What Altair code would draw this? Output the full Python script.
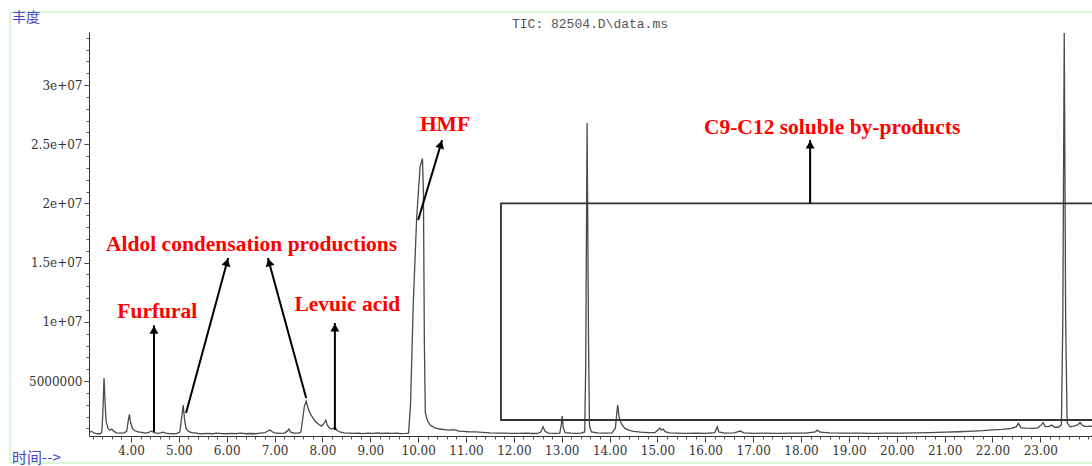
import math
import altair as alt
import pandas as pd

# ---------------- data (time in min, abundance in millions) ----------------
times = [
    3.12, 3.16, 3.20, 3.25, 3.30, 3.36, 3.39,
    3.41, 3.436, 3.46, 3.48, 3.52, 3.56, 3.60, 3.64, 3.70, 3.78, 3.85, 3.91,
    3.94, 3.965, 3.99, 4.03, 4.08, 4.15, 4.22, 4.30, 4.38, 4.43, 4.48, 4.55, 4.62, 4.67, 4.72, 4.80, 4.88, 4.95, 5.02,
    5.06, 5.09, 5.12, 5.15, 5.20, 5.28, 5.35, 5.42, 5.50, 5.60, 5.70, 5.80, 5.90, 6.00, 6.10, 6.20, 6.30, 6.40,
    6.50, 6.60, 6.70, 6.80, 6.86, 6.90, 6.95, 7.00, 7.10, 7.20, 7.26, 7.30, 7.33, 7.40, 7.50, 7.55,
    7.58, 7.62, 7.66, 7.70, 7.75, 7.80, 7.85, 7.92, 7.98, 8.03, 8.07, 8.10, 8.15, 8.20, 8.24, 8.27, 8.30, 8.36,
    8.45, 8.55, 8.65, 8.75, 8.85, 8.95, 9.05, 9.15, 9.25, 9.35, 9.45, 9.55, 9.65, 9.75, 9.80,
    9.84, 9.90, 9.97, 10.04, 10.09, 10.11, 10.13, 10.15, 10.20, 10.25, 10.35, 10.45, 10.55, 10.65, 10.75, 10.85,
    10.95, 11.05, 11.20, 11.35, 11.50, 11.65, 11.80, 11.95, 12.10, 12.25, 12.40, 12.50, 12.56, 12.61, 12.65, 12.72,
    12.85, 12.96, 12.99, 13.01, 13.03, 13.07, 13.20, 13.30, 13.40, 13.48,
    13.50, 13.53, 13.56, 13.58, 13.62, 13.75, 13.90, 14.05, 14.12, 14.15, 14.17, 14.20, 14.25, 14.32, 14.40, 14.50,
    14.65, 14.80, 14.95, 15.02, 15.05, 15.08, 15.12, 15.16, 15.25, 15.40, 15.60, 15.80, 16.00, 16.20, 16.25, 16.28,
    16.40, 16.60, 16.73, 16.80, 17.00, 17.20, 17.50, 17.80, 18.10, 18.30, 18.34, 18.40, 18.60, 18.90, 19.20, 19.50,
    19.80, 20.10, 20.40, 20.70, 21.00, 21.30, 21.60, 21.80, 22.00, 22.20, 22.40, 22.50, 22.54, 22.60, 22.70, 22.85,
    22.95, 23.02, 23.06, 23.10, 23.17, 23.24, 23.30, 23.38, 23.44,
    23.47, 23.50, 23.53, 23.56, 23.62, 23.70, 23.78, 23.83, 23.88, 23.95, 24.04, 24.08,
]
abundance_m = [
    0.62, 0.75, 0.70, 0.58, 0.55, 0.56, 0.70,
    2.2, 5.25, 3.0, 1.6, 1.0, 0.85, 0.95, 0.75, 0.62, 0.60, 0.62, 0.75,
    1.6, 2.19, 1.5, 1.0, 0.8, 0.7, 0.66, 0.60, 0.68, 0.78, 0.65, 0.58, 0.62, 0.68, 0.60, 0.56, 0.55, 0.56, 0.70,
    2.0, 2.97, 1.7, 1.0, 0.75, 0.62, 0.62, 0.56, 0.55, 0.58, 0.55, 0.60, 0.56, 0.55, 0.58, 0.56, 0.60, 0.55,
    0.57, 0.55, 0.60, 0.65, 0.78, 0.86, 0.72, 0.62, 0.58, 0.60, 0.75, 0.95, 0.70, 0.60, 0.60, 0.70,
    1.6, 2.8, 3.31, 2.7, 2.2, 1.9, 1.6, 1.35, 1.2, 1.4, 1.7, 1.3, 1.0, 0.95, 1.05, 1.1, 0.85, 0.70,
    0.62, 0.60, 0.58, 0.60, 0.56, 0.60, 0.58, 0.62, 0.57, 0.60, 0.58, 0.60, 0.56, 0.58, 0.60,
    3.0, 11.8, 18.9, 23.1, 23.8, 21.0, 8.0, 2.3, 1.6, 1.28, 1.05, 0.95, 0.90, 0.85, 0.90, 0.78,
    0.75, 0.72, 0.70, 0.66, 0.62, 0.60, 0.60, 0.58, 0.58, 0.60, 0.57, 0.58, 0.70, 1.14, 0.75, 0.60,
    0.58, 0.60, 1.3, 2.04, 1.1, 0.65, 0.60, 0.58, 0.60, 0.70,
    6.0, 26.8, 8.0, 1.2, 0.70, 0.62, 0.60, 0.62, 1.0, 2.3, 2.97, 1.9, 1.35, 1.0, 0.85, 0.75,
    0.68, 0.64, 0.65, 0.90, 1.03, 0.85, 0.95, 0.72, 0.62, 0.60, 0.58, 0.60, 0.58, 0.65, 1.14, 0.70,
    0.60, 0.62, 0.78, 0.62, 0.58, 0.60, 0.58, 0.60, 0.60, 0.70, 0.85, 0.68, 0.62, 0.60, 0.60, 0.58,
    0.60, 0.60, 0.62, 0.65, 0.68, 0.72, 0.78, 0.82, 0.88, 0.92, 1.0, 1.15, 1.43, 1.05, 1.02, 1.0,
    1.05, 1.3, 1.48, 1.15, 1.15, 1.28, 1.1, 1.1, 1.3,
    10.0, 34.4, 10.0, 1.5, 1.14, 1.2, 1.3, 1.5, 1.25, 1.15, 1.2, 1.18,
]

x_tick_values = list(range(4, 24))
y_tick_values = [5000000, 10000000, 15000000, 20000000, 25000000, 30000000]
y_tick_labels = ["5000000", "1e+07", "1.5e+07", "2e+07", "2.5e+07", "3e+07"]

# annotation texts (time, abundance in millions)
label_texts = ["Furfural", "Aldol condensation productions", "Levuic acid", "HMF", "C9-C12 soluble by-products"]
label_t = [4.55, 6.52, 8.52, 10.56, 18.65]
label_v = [10.8, 16.5, 11.4, 26.6, 26.4]

# arrows: start (t, v) -> tip (t, v)
arrow_t0 = [4.48, 5.15, 7.66, 8.26, 10.00, 18.19]
arrow_v0 = [0.69, 2.3, 3.57, 0.86, 18.6, 20.0]
arrow_t1 = [4.48, 6.03, 6.86, 8.26, 10.50, 18.19]
arrow_v1 = [9.7, 15.4, 15.4, 9.9, 25.35, 25.35]

# boxed region
box_t = [11.73, 24.6]
box_v = [1.71, 20.0]

# ---------------- build ----------------
X_MIN, X_MAX = 3.122, 24.08
Y_MIN, Y_MAX = 0.36e6, 34.48e6
W, H = 1003, 404
px_per_t = W / (X_MAX - X_MIN)
px_per_v = H / (Y_MAX - Y_MIN)

xscale = alt.Scale(domain=[X_MIN, X_MAX], nice=False, zero=False)
yscale = alt.Scale(domain=[Y_MIN, Y_MAX], nice=False, zero=False)

df = pd.DataFrame({"t": times, "v": [a * 1e6 for a in abundance_m]})

x_minor = [round(3.2 + 0.2 * i, 1) for i in range(105)]
y_minor = [1e6 * i for i in range(1, 35)]

y_expr = "".join(f"datum.value == {v} ? '{l}' : " for v, l in zip(y_tick_values, y_tick_labels)) + "''"

axis_common = dict(domainColor="#333333", tickColor="#333333", labelColor="#333333",
                   labelFont="DejaVu Serif", labelFontSize=12, grid=False, title=None)

line = alt.Chart(df).mark_line(color="#4a4a4a", strokeWidth=1.3, clip=True).encode(
    x=alt.X("t:Q", scale=xscale,
            axis=alt.Axis(orient="bottom", values=x_tick_values, labelExpr="format(datum.value, '.2f')",
                          tickSize=6, labelPadding=3, **axis_common)),
    y=alt.Y("v:Q", scale=yscale,
            axis=alt.Axis(orient="left", values=y_tick_values, labelExpr=y_expr,
                          tickSize=5, labelPadding=2, **axis_common)),
)

minor = alt.Chart(df).mark_line(strokeOpacity=0).encode(
    x=alt.X("t:Q", scale=xscale,
            axis=alt.Axis(orient="bottom", values=x_minor, labels=False, domain=False, tickSize=3,
                          tickColor="#555555", grid=False, title=None)),
    y=alt.Y("v:Q", scale=yscale,
            axis=alt.Axis(orient="left", values=y_minor, labels=False, domain=False, tickSize=3,
                          tickColor="#555555", grid=False, title=None)),
)

box_df = pd.DataFrame({"t": [box_t[0]], "t2": [box_t[1]], "v": [box_v[0] * 1e6], "v2": [box_v[1] * 1e6]})
box = alt.Chart(box_df).mark_rect(fillOpacity=0, stroke="#333333", strokeWidth=1.8, clip=True).encode(
    x=alt.X("t:Q", scale=xscale, axis=None), x2="t2:Q",
    y=alt.Y("v:Q", scale=yscale, axis=None), y2="v2:Q",
)

# arrows
rows = []
for t0, v0, t1, v1 in zip(arrow_t0, arrow_v0, arrow_t1, arrow_v1):
    dx = (t1 - t0) * px_per_t
    dy = -(v1 - v0) * 1e6 * px_per_v  # screen y
    L = math.hypot(dx, dy)
    ux, uy = dx / L, dy / L
    ang = math.degrees(math.atan2(ux, -uy)) % 360
    back = 4.5
    ht = t1 - back * ux / px_per_t
    hv = v1 * 1e6 + back * uy / px_per_v
    rows.append({"t": t0, "v": v0 * 1e6, "t2": t1, "v2": v1 * 1e6, "ht": ht, "hv": hv, "ang": ang})
arr_df = pd.DataFrame(rows)

shafts = alt.Chart(arr_df).mark_rule(color="black", strokeWidth=2).encode(
    x=alt.X("t:Q", scale=xscale, axis=None), x2="t2:Q",
    y=alt.Y("v:Q", scale=yscale, axis=None), y2="v2:Q",
)
heads = alt.Chart(arr_df).mark_point(shape="triangle-up", filled=True, size=80, color="black", opacity=1).encode(
    x=alt.X("ht:Q", scale=xscale, axis=None),
    y=alt.Y("hv:Q", scale=yscale, axis=None),
    angle=alt.Angle("ang:Q", scale=None),
)

lab_df = pd.DataFrame({"t": label_t, "v": [v * 1e6 for v in label_v], "txt": label_texts})
labels = alt.Chart(lab_df).mark_text(font="Liberation Serif", fontWeight="bold", fontSize=21.5,
                                     color="#ff0000", baseline="middle", align="center").encode(
    x=alt.X("t:Q", scale=xscale, axis=None),
    y=alt.Y("v:Q", scale=yscale, axis=None),
    text="txt:N",
)

one = pd.DataFrame({"a": [0]})
title_txt = alt.Chart(one).mark_text(text="TIC: 82504.D\\data.ms", font="Liberation Mono", fontSize=13,
                                     color="#555555", align="center", baseline="middle").encode(
    x=alt.value(501), y=alt.value(-8))
ylab = alt.Chart(one).mark_text(text="丰度", font="Noto Sans CJK SC", fontSize=14, color="#4646c8",
                                align="left", baseline="middle").encode(x=alt.value(-77), y=alt.value(-14))
xlab = alt.Chart(one).mark_text(text="时间-->", font="Noto Sans CJK SC", fontSize=15, color="#4646c8",
                                align="left", baseline="middle").encode(x=alt.value(-77), y=alt.value(426))

frame_col = "#cdf3cd"
f_top = alt.Chart(one).mark_rule(color=frame_col, strokeWidth=1.5).encode(
    x=alt.value(-79), x2=alt.value(1003), y=alt.value(-20))
f_left = alt.Chart(one).mark_rule(color=frame_col, strokeWidth=1.5).encode(
    x=alt.value(-79), y=alt.value(-20), y2=alt.value(431))
f_bot = alt.Chart(one).mark_rule(color=frame_col, strokeWidth=1.5).encode(
    x=alt.value(-79), x2=alt.value(1003), y=alt.value(431))

chart = alt.layer(
    f_top, f_left, f_bot, line, minor, box, shafts, heads, labels, title_txt, ylab, xlab
).resolve_axis(x="independent", y="independent").properties(
    width=W, height=H,
    autosize=alt.AutoSizeParams(type="none"),
    padding={"left": 89, "top": 32, "right": 0, "bottom": 30},
    background="white",
).configure_view(stroke=None)

chart.save("out.html", embed_options={"renderer": "svg", "actions": False})
